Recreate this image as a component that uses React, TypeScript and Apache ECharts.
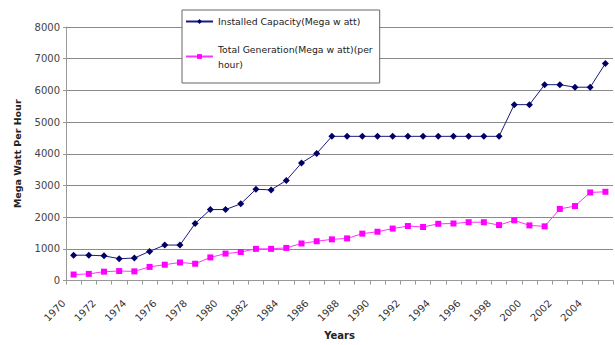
import React, { useEffect, useRef } from "react";
import * as echarts from "echarts";

// Years on the category axis
const years: string[] = [
  "1970", "1971", "1972", "1973", "1974", "1975", "1976", "1977", "1978", "1979",
  "1980", "1981", "1982", "1983", "1984", "1985", "1986", "1987", "1988", "1989",
  "1990", "1991", "1992", "1993", "1994", "1995", "1996", "1997", "1998", "1999",
  "2000", "2001", "2002", "2003", "2004", "2005",
];

// Installed capacity, megawatt
const installedCapacity: number[] = [
  800, 800, 780, 690, 710, 920, 1120, 1120, 1800, 2240,
  2240, 2420, 2880, 2860, 3160, 3710, 4010, 4550, 4550, 4550,
  4550, 4550, 4550, 4550, 4550, 4550, 4550, 4550, 4550, 5550,
  5550, 6180, 6180, 6100, 6100, 6850,
];

// Total generation, megawatt per hour
const totalGeneration: number[] = [
  190, 210, 280, 300, 290, 430, 500, 570, 530, 730,
  850, 900, 1000, 1000, 1030, 1170, 1240, 1300, 1330, 1480,
  1540, 1640, 1720, 1690, 1790, 1800, 1840, 1840, 1750, 1900,
  1740, 1710, 2260, 2350, 2780, 2800,
];

const seriesNames: string[] = [
  "Installed Capacity(Mega w att)",
  "Total Generation(Mega w att)(per\nhour)",
];

const FONT = "'DejaVu Sans', Verdana, sans-serif";

export default function App() {
  const ref = useRef<HTMLDivElement>(null);

  useEffect(() => {
    document.body.style.margin = "0";
    if (!ref.current) return;
    const chart = echarts.init(ref.current, undefined, { renderer: "svg" });
    chart.setOption({
      animation: false,
      backgroundColor: "#ffffff",
      textStyle: { fontFamily: FONT },
      grid: { left: 66, right: 2, top: 27, bottom: 62 },
      legend: {
        orient: "vertical",
        left: 182,
        top: 10,
        backgroundColor: "#ffffff",
        borderColor: "#666666",
        borderWidth: 1,
        borderRadius: 0,
        padding: [4, 7, 4, 3],
        itemGap: 5,
        itemWidth: 27,
        itemHeight: 6,
        textStyle: { fontSize: 9.3, color: "#222", fontFamily: FONT, lineHeight: 15 },
        data: [
          { name: seriesNames[0] },
          { name: seriesNames[1], textStyle: { padding: [15, 0, 0, 0] } },
        ],
      },
      xAxis: {
        type: "category",
        data: years,
        boundaryGap: true,
        name: "Years",
        nameLocation: "middle",
        nameGap: 49,
        nameTextStyle: { fontSize: 10, fontWeight: "bold", color: "#222" },
        axisLine: { lineStyle: { color: "#999999", width: 1 } },
        axisTick: { show: true, interval: 0, length: 4, lineStyle: { color: "#999999" } },
        axisLabel: {
          interval: 1,
          rotate: 45,
          fontSize: 10,
          color: "#333",
          margin: 11,
          padding: [0, 14, 0, 0],
        },
        splitLine: { show: false },
      },
      yAxis: {
        type: "value",
        min: 0,
        max: 8000,
        interval: 1000,
        name: "Mega Watt Per Hour",
        nameLocation: "middle",
        nameGap: 44,
        nameTextStyle: { fontSize: 9.5, fontWeight: "bold", color: "#222" },
        axisLine: { show: true, lineStyle: { color: "#999999", width: 1 } },
        axisTick: { show: true, length: 3, lineStyle: { color: "#999999" } },
        axisLabel: {
          fontSize: 10,
          color: "#444",
          margin: 6,
          formatter: (v: number) => String(v),
        },
        splitLine: { show: true, lineStyle: { color: "#8a8a8a", width: 1 } },
      },
      series: [
        {
          name: seriesNames[0],
          type: "line",
          data: installedCapacity,
          symbol: "diamond",
          symbolSize: 7,
          itemStyle: { color: "#000066" },
          lineStyle: { color: "#1a1a80", width: 1 },
          z: 3,
        },
        {
          name: seriesNames[1],
          type: "line",
          data: totalGeneration,
          symbol: "rect",
          symbolSize: 6,
          itemStyle: { color: "#ff00ff" },
          lineStyle: { color: "#ff33ff", width: 1 },
          z: 2,
        },
      ],
    });
    return () => chart.dispose();
  }, []);

  return <div ref={ref} style={{ width: 615, height: 345 }} />;
}
